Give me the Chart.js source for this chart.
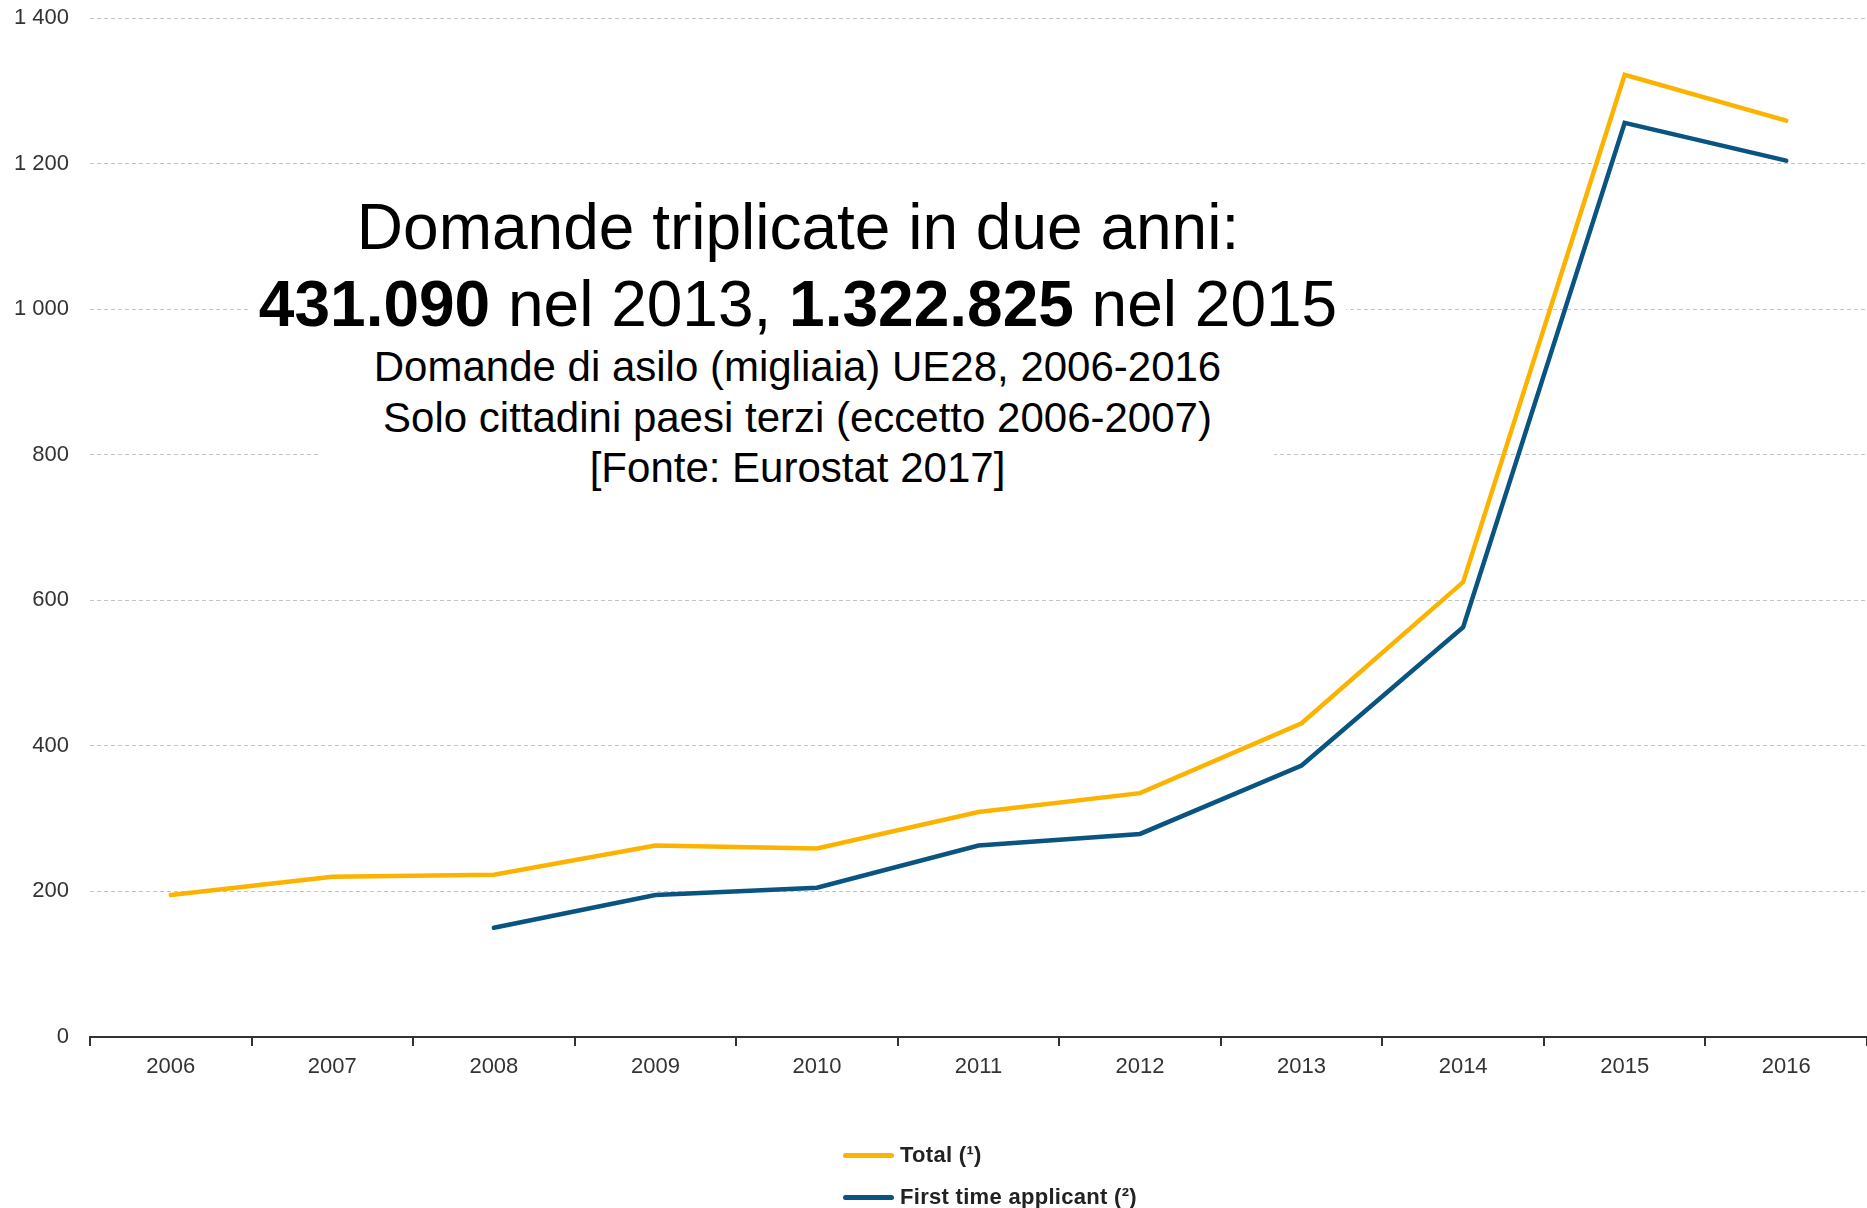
<!DOCTYPE html>
<html>
<head>
<meta charset="utf-8">
<script src="https://cdn.jsdelivr.net/npm/chart.js@4.4.1/dist/chart.umd.min.js"></script>
<style>
  html, body { margin: 0; padding: 0; background: #fff; }
  #wrap { position: relative; width: 1867px; height: 1208px; overflow: hidden; font-family: 'Liberation Sans', Arial, sans-serif; }
  #c { position: absolute; left: 0; top: 0; }
  .blk { position: absolute; background: #fff; text-align: center; color: #000; }
  .l1 { position: absolute; left: 0; right: 0; font-size: 64px; line-height: 64px; white-space: nowrap; }
  .l3 { position: absolute; left: 0; right: 0; font-size: 42px; line-height: 42px; white-space: nowrap; }
  #legend { position: absolute; left: 843px; top: 1143px; font-family: 'Liberation Sans', Arial, sans-serif; }
  .li { position: absolute; left: 0; height: 24px; white-space: nowrap; }
  .sw { position: absolute; left: 0; top: 10px; width: 51px; height: 5px; border-radius: 3px; }
  .lt { position: absolute; left: 57px; top: 0; font-size: 22px; line-height: 24px; font-weight: bold; color: #222; letter-spacing: 0.3px; }
</style>
</head>
<body>
<div id="wrap">
  <canvas id="c" width="1867" height="1208"></canvas>
  <div class="blk" style="left:250px; top:178px; width:1096px; height:162px;">
    <div class="l1" style="top:17px;">Domande triplicate in due anni:</div>
    <div class="l1" style="top:94px;"><b>431.090</b> nel 2013, <b>1.322.825</b> nel 2015</div>
  </div>
  <div class="blk" style="left:321px; top:340px; width:953px; height:155px;">
    <div class="l3" style="top:6px;">Domande di asilo (migliaia) UE28, 2006-2016</div>
    <div class="l3" style="top:57px;">Solo cittadini paesi terzi (eccetto 2006-2007)</div>
    <div class="l3" style="top:107px;">[Fonte: Eurostat 2017]</div>
  </div>
  <div id="legend"></div>
</div>
<script>
const years = ['2006','2007','2008','2009','2010','2011','2012','2013','2014','2015','2016'];
const totalValues = [195, 220, 223, 263, 259, 309, 335, 431, 625, 1322, 1259];
const firstTimeValues = [null, null, 150, 195, 205, 263, 279, 373, 563, 1256, 1204];
const seriesNames = ['Total (\u00B9)', 'First time applicant (\u00B2)'];
const seriesColors = ['#fbb300', '#0a5482'];
const yTicks = [0, 200, 400, 600, 800, 1000, 1200, 1400];

const FONT = "'Liberation Sans', Arial, sans-serif";

const chart = new Chart(document.getElementById('c'), {
  type: 'line',
  data: {
    labels: years,
    datasets: [
      { label: seriesNames[0], data: totalValues, borderColor: seriesColors[0], backgroundColor: seriesColors[0], borderWidth: 4.5, pointRadius: 0, tension: 0, borderCapStyle: 'round', borderJoinStyle: 'miter' },
      { label: seriesNames[1], data: firstTimeValues, borderColor: seriesColors[1], backgroundColor: seriesColors[1], borderWidth: 4.5, pointRadius: 0, tension: 0, borderCapStyle: 'round', borderJoinStyle: 'miter' }
    ]
  },
  options: {
    responsive: false,
    animation: false,
    devicePixelRatio: 1,
    layout: { padding: { top: 18, left: 0, right: 0, bottom: 0 } },
    plugins: { legend: { display: false }, tooltip: { enabled: false } },
    scales: {
      x: {
        offset: true,
        grid: { offset: true, drawOnChartArea: false, drawTicks: true, tickLength: 9, color: '#333', lineWidth: 2 },
        border: { display: true, color: '#333', width: 2 },
        ticks: { color: '#333', font: { family: FONT, size: 22 }, padding: 8, maxRotation: 0 },
        afterFit: s => { s.height = 171; s.paddingLeft = 0; s.paddingRight = 0; }
      },
      y: {
        min: 0, max: 1400,
        afterBuildTicks: s => { s.ticks = yTicks.map(v => ({ value: v })); },
        grid: { color: '#c4c4c4', lineWidth: 1, drawTicks: false },
        border: { display: false, dash: [4, 3] },
        ticks: {
          color: '#333', font: { family: FONT, size: 22 }, padding: 21,
          callback: v => String(v).replace(/\B(?=(\d{3})+(?!\d))/g, ' ')
        },
        afterFit: s => { s.width = 90; s.paddingTop = 0; s.paddingBottom = 0; }
      }
    }
  }
});

// legend built from the chart's datasets
const lg = document.getElementById('legend');
chart.data.datasets.forEach((ds, i) => {
  const item = document.createElement('div');
  item.className = 'li';
  item.style.top = (i * 42) + 'px';
  item.innerHTML = '<div class="sw" style="background:' + ds.borderColor + '"></div><div class="lt">' + ds.label + '</div>';
  lg.appendChild(item);
});
</script>
</body>
</html>
